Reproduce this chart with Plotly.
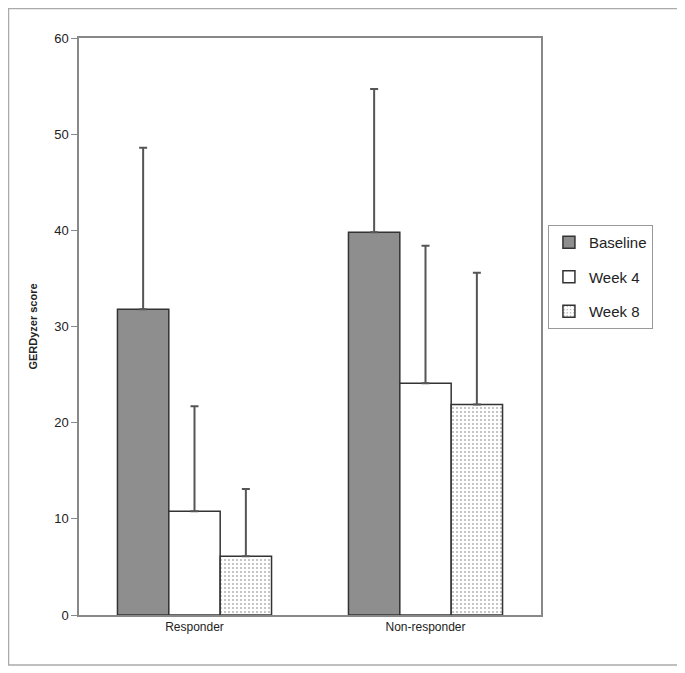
import plotly.graph_objects as go

groups = ["Responder", "Non-responder"]
series = ["Baseline", "Week 4", "Week 8"]
means = {
    "Baseline": [31.8, 39.8],
    "Week 4": [10.8, 24.1],
    "Week 8": [6.1, 21.9],
}
sds = {
    "Baseline": [16.8, 14.9],
    "Week 4": [10.9, 14.3],
    "Week 8": [7.0, 13.7],
}
y_ticks = [0, 10, 20, 30, 40, 50, 60]

styles = {
    "Baseline": dict(color="#8e8e8e", pattern=None),
    "Week 4": dict(color="#ffffff", pattern=None),
    "Week 8": dict(color="#ffffff", pattern=dict(shape=".", fgcolor="#666666",
                                                  bgcolor="#ffffff", size=4, solidity=0.2)),
}

fig = go.Figure()
for s in series:
    st = styles[s]
    marker = dict(color=st["color"], line=dict(color="#333333", width=1.5))
    if st["pattern"]:
        marker["pattern"] = st["pattern"]
    fig.add_trace(go.Bar(
        x=groups, y=means[s], name=s, marker=marker, legendgroup=s,
        error_y=dict(type="data", array=sds[s], arrayminus=[0, 0], symmetric=False,
                     color="#555555", thickness=2, width=4),
    ))

# page body has an 8px margin, so the figure is shrunk and shifted to compensate
fig.update_layout(
    width=677, height=665,
    barmode="group", bargap=0.333, bargroupgap=0,
    paper_bgcolor="white", plot_bgcolor="white",
    margin=dict(l=71, r=144, t=30, b=58),
    font=dict(family="Liberation Sans, Arial, sans-serif", size=13, color="#222222"),
    showlegend=True,
    legend=dict(x=1.015, y=0.676, xanchor="left", yanchor="top",
                bordercolor="#999999", borderwidth=1, bgcolor="white",
                font=dict(size=15), tracegroupgap=12, itemwidth=30,
                traceorder="grouped"),
    xaxis=dict(showline=True, linecolor="#888888", linewidth=1.5, mirror=True,
               ticks="", tickfont=dict(size=12)),
    yaxis=dict(range=[0, 60], tickvals=y_ticks, showgrid=False, zeroline=False,
               showline=True, linecolor="#888888", linewidth=1.5, mirror=True,
               ticks="outside", ticklen=6, tickcolor="#888888",
               title=dict(text="<b>GERDyzer score</b>", font=dict(size=11), standoff=14)),
    shapes=[dict(type="rect", xref="paper", yref="paper",
                 x0=-0.1526, x1=1.2965, y0=-0.0867, y1=1.0511,
                 line=dict(color="#aaaaaa", width=1.5))],
)

fig.write_html("out.html")
